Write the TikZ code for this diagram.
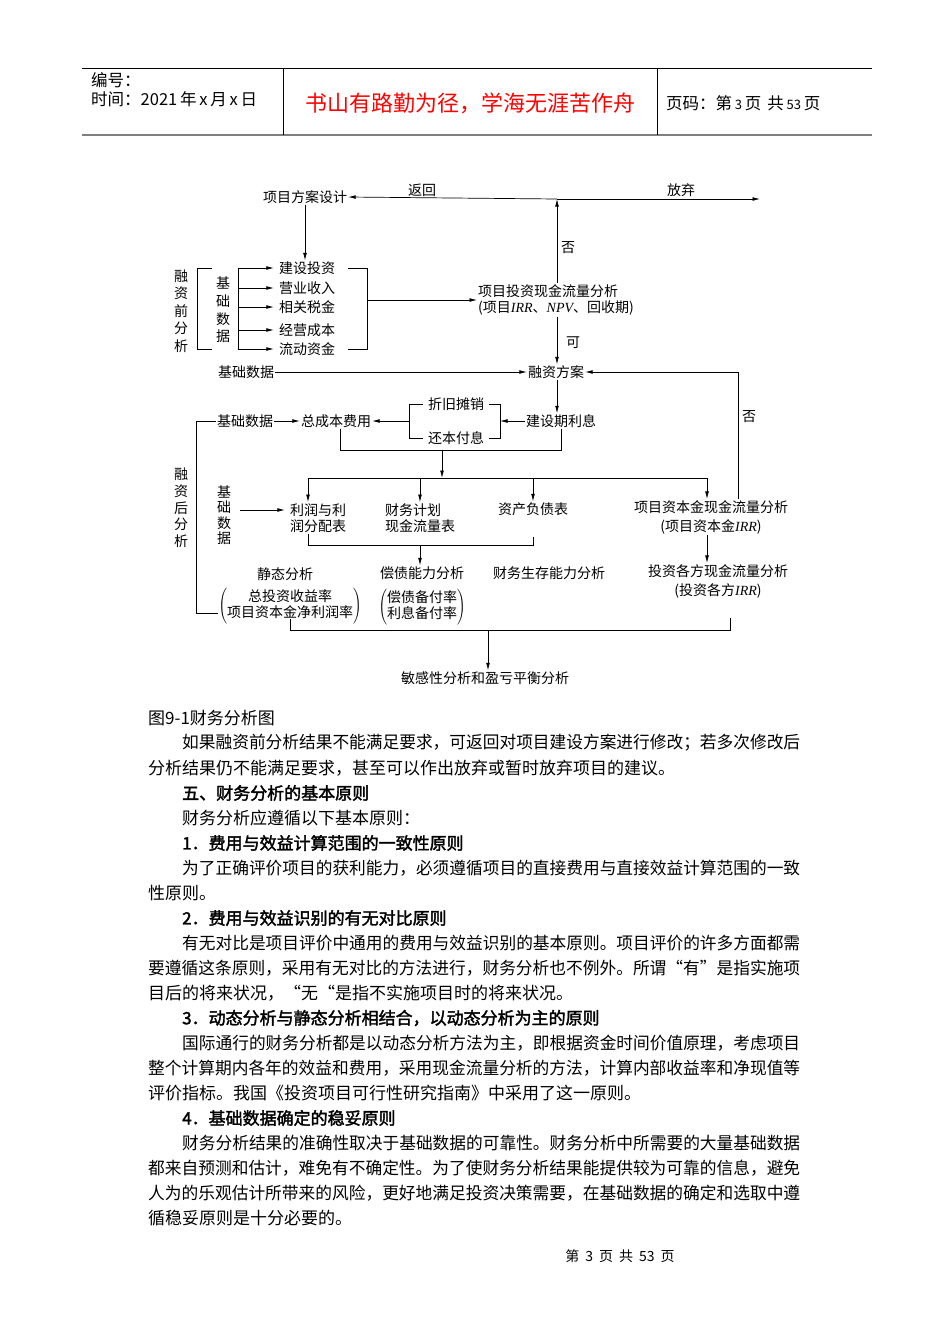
\documentclass[tikz,border=0pt]{standalone}
\usepackage{fontspec}
\setmainfont{Noto Sans CJK SC}[AutoFakeBold=2]
\newfontfamily\timesf{Liberation Serif}
\usepackage{xcolor}
\usepackage{graphicx}
\usetikzlibrary{arrows.meta,positioning,calc}
\definecolor{HdrRed}{HTML}{FF0000}
\definecolor{RuleGray}{HTML}{7F7F7F}
\newcommand\latit[1]{{\timesf\itshape #1}}
\newcommand\fline[1]{\resizebox{652pt}{\height}{#1}}
\newcommand\iline[1]{\resizebox{618pt}{\height}{#1}}

\begin{document}
\begin{tikzpicture}[x=1pt,y=-1pt,
        txt/.style={font=\fontsize{14}{16.5}\selectfont,inner sep=1pt},
        vtxt/.style={txt,align=center},
        arr/.style={-{Latex[length=7.5pt,width=3.8pt]},line width=0.7pt},
        ln/.style={line width=0.7pt},
        body/.style={font=\fontsize{17}{20}\selectfont,inner sep=0pt,anchor=west},
        bodyb/.style={body,font=\fontsize{17}{20}\selectfont\bfseries},
        hdr/.style={font=\fontsize{16.5}{18}\selectfont,inner sep=0pt,anchor=west}]
\useasboundingbox[fill=white] (0,0) rectangle (950,1344);

% page header
\draw[line width=0.8pt] (82,68) -- (872,68);
\draw[line width=2pt,RuleGray] (82,135) -- (872,135);
\draw[line width=0.8pt] (283,68) -- (283,135);
\draw[line width=0.8pt] (657,68) -- (657,135);
\node[hdr] (serial) at (91,80) {编号：};
\node[hdr] (date) at (91,99) {时间：2021\,年\,x\,月\,x\,日};
\node[font=\fontsize{22}{24}\selectfont,HdrRed,inner sep=0pt] (motto) at (470,103) {书山有路勤为径，学海无涯苦作舟};
\node[hdr] (pageno) at (666,103) {页码：第\,{\fontsize{13}{14}\selectfont 3}\,页\hspace{6pt}共\,{\fontsize{13}{14}\selectfont 53}\,页};

% before financing
\node[txt] (design) at (305,197) {项目方案设计};
\coordinate (fork) at (557,199);
\coordinate (quit) at (760,199);
\node[txt] (back) at (422,190) {返回};
\node[txt] (giveup) at (681,190) {放弃};
\draw[arr] (fork) -- (design.east);
\draw[arr] (fork) -- (quit);

\node[vtxt,font=\fontsize{14}{17.5}\selectfont] (pre) at (181,311) {融\\资\\前\\分\\析};
\node[vtxt,font=\fontsize{14}{17.7}\selectfont] (bd1) at (223,310) {基\\础\\数\\据};
\node[txt] (inv) at (307,268) {建设投资};
\node[txt] (rev) at (307,288) {营业收入};
\node[txt] (tax) at (307,307) {相关税金};
\node[txt] (opc) at (307,330) {经营成本};
\node[txt] (wc) at (307,349) {流动资金};
\draw[arr] (design.south) -- (design.south |- inv.north);
\draw[ln] (212,268) -- (197,268) -- (197,349) -- (212,349);
\coordinate (spine) at (238,268);
\draw[ln] (spine) -- (spine |- wc.west);
\foreach \it in {inv,rev,tax,opc,wc}
  \draw[arr] (spine |- \it.west) -- ([xshift=-4pt]\it.west);

\node[txt,align=left,anchor=west] (cfa) at (477,300)
  {项目投资现金流量分析\\(项目\latit{IRR}、\latit{NPV}、回收期)};
\coordinate (rb) at (367,300);
\draw[ln] ([xshift=12pt]inv.east) -- (inv.east -| rb) -- (wc.east -| rb) -- ([xshift=12pt]wc.east);
\draw[arr] (rb) -- (cfa.west);
\draw[arr] (cfa.north -| fork) -- (fork);
\node[txt] (no1) at (568,248) {否};

% financing plan
\node[txt] (fin) at (556,372) {融资方案};
\node[txt] (bd2) at (246,372) {基础数据};
\draw[arr] (cfa.south -| fork) -- (fork |- fin.north);
\node[txt] (yes) at (573,343) {可};
\draw[arr] (bd2.east) -- (fin.west);

% after financing
\node[txt] (cip) at (561,421) {建设期利息};
\node[txt] (dep) at (456,404) {折旧摊销};
\node[txt] (rep) at (456,438) {还本付息};
\node[txt] (tcost) at (336,421) {总成本费用};
\node[txt] (bd3) at (245,421) {基础数据};
\draw[arr] (fork |- fin.south) -- (fork |- cip.north);
\coordinate (rb2) at (500,421);
\coordinate (lb2) at (409,421);
\draw[ln] ([xshift=4pt]dep.east) -- (dep.east -| rb2) -- (rep.east -| rb2) -- ([xshift=4pt]rep.east);
\draw[ln] ([xshift=-4pt]dep.west) -- (dep.west -| lb2) -- (rep.west -| lb2) -- ([xshift=-4pt]rep.west);
\draw[arr] (cip.west) -- (rb2);
\draw[arr] (lb2) -- (tcost.east);
\draw[arr] (bd3.east) -- (tcost.west);

\coordinate (merge) at (442,450);
\coordinate (d1) at (308,478);
\coordinate (d2) at (420,478);
\coordinate (d3) at (533,478);
\coordinate (d4) at (707,478);
\draw[ln] ([xshift=4pt]tcost.south) |- (cip.south |- merge) -- (cip.south);
\draw[arr] (merge) -- (merge |- d1);
\draw[ln] (d1) -- (d4);

\node[vtxt,font=\fontsize{14}{16.7}\selectfont] (post) at (181,508) {融\\资\\后\\分\\析};
\node[vtxt,font=\fontsize{14}{15.4}\selectfont] (bd4) at (224,515) {基\\础\\数\\据};
\node[txt,align=left] (pl) at (318,518) {利润与利\\润分配表};
\node[txt,align=left] (cfp) at (420,518) {财务计划\\现金流量表};
\node[txt] (bs) at (533,509) {资产负债表};
\node[txt,align=center,font=\fontsize{14}{19}\selectfont] (eqcf) at (711,517)
  {项目资本金现金流量分析\\(项目资本金\latit{IRR})};
\draw[arr] (d1) -- (d1 |- pl.north);
\draw[arr] (d2) -- (d2 |- cfp.north);
\draw[arr] (d3) -- (d3 |- bs.north);
\draw[arr] (d4) -- (d4 |- eqcf.north);
\draw[arr] ([shift={(8pt,5pt)}]bd4.east) -- ([shift={(-4pt,5pt)}]bd4.east -| pl.west);

\coordinate (nl) at (738,372);
\draw[arr] ([xshift=27pt]eqcf.north) -- (nl) -- (fin.east);
\node[txt] (no2) at (749,417) {否};

\coordinate (m1) at (420,545);
\draw[ln] (d1 |- pl.south) -- (d1 |- m1) -- (d3 |- m1) -- ([yshift=8pt]d3 |- m1);

\node[txt] (stat) at (285,574) {静态分析};
\node[txt] (debt) at (422,573) {偿债能力分析};
\node[txt] (sur) at (549,573) {财务生存能力分析};
\node[txt,align=center,font=\fontsize{14}{19}\selectfont] (ipcf) at (718,581)
  {投资各方现金流量分析\\(投资各方\latit{IRR})};
\node[txt,inner sep=0pt] (statlist) at (290,606)
  {$\left(\begin{tabular}{@{}c@{}}总投资收益率\\项目资本金净利润率\end{tabular}\right)$};
\node[txt,inner sep=0pt] (debtlist) at (422,607)
  {$\left(\begin{tabular}{@{}c@{}}偿债备付率\\利息备付率\end{tabular}\right)$};
\draw[arr] (m1) -- (m1 |- debt.north);
\draw[arr] (d4 |- eqcf.south) -- (d4 |- ipcf.north);
\draw[ln] (bd3.west) -- ++(-19,0) |- ([yshift=-7pt]statlist.west);

\coordinate (b1) at (488,630);
\coordinate (b2) at (730,630);
\node[txt] (sens) at (485,678) {敏感性分析和盈亏平衡分析};
\draw[ln] ([yshift=5pt]statlist.south) |- (b2) -- ([yshift=12pt]b2);
\draw[arr] (b1) -- (b1 |- sens.north);

% running text
\node[body] (cap) at (148,718) {图9-1财务分析图};
\node[body] (l01) at (182,743) {\iline{如果融资前分析结果不能满足要求，可返回对项目建设方案进行修改；若多次修改后}};
\node[body] (l02) at (148,768) {分析结果仍不能满足要求，甚至可以作出放弃或暂时放弃项目的建议。};
\node[bodyb] (l03) at (182,793) {五、财务分析的基本原则};
\node[body] (l04) at (182,818) {财务分析应遵循以下基本原则：};
\node[bodyb] (l05) at (182,843) {1．费用与效益计算范围的一致性原则};
\node[body] (l06) at (182,868) {\iline{为了正确评价项目的获利能力，必须遵循项目的直接费用与直接效益计算范围的一致}};
\node[body] (l07) at (148,893) {性原则。};
\node[bodyb] (l08) at (182,918) {2．费用与效益识别的有无对比原则};
\node[body] (l09) at (182,943) {\iline{有无对比是项目评价中通用的费用与效益识别的基本原则。项目评价的许多方面都需}};
\node[body] (l10) at (148,968) {\fline{要遵循这条原则，采用有无对比的方法进行，财务分析也不例外。所谓“有”是指实施项}};
\node[body] (l11) at (148,993) {目后的将来状况，“无“是指不实施项目时的将来状况。};
\node[bodyb] (l12) at (182,1018) {3．动态分析与静态分析相结合，以动态分析为主的原则};
\node[body] (l13) at (182,1043) {\iline{国际通行的财务分析都是以动态分析方法为主，即根据资金时间价值原理，考虑项目}};
\node[body] (l14) at (148,1068) {\fline{整个计算期内各年的效益和费用，采用现金流量分析的方法，计算内部收益率和净现值等}};
\node[body] (l15) at (148,1093) {评价指标。我国《投资项目可行性研究指南》中采用了这一原则。};
\node[bodyb] (l16) at (182,1118) {4．基础数据确定的稳妥原则};
\node[body] (l17) at (182,1143) {\iline{财务分析结果的准确性取决于基础数据的可靠性。财务分析中所需要的大量基础数据}};
\node[body] (l18) at (148,1168) {\fline{都来自预测和估计，难免有不确定性。为了使财务分析结果能提供较为可靠的信息，避免}};
\node[body] (l19) at (148,1193) {\fline{人为的乐观估计所带来的风险，更好地满足投资决策需要，在基础数据的确定和选取中遵}};
\node[body] (l20) at (148,1218) {循稳妥原则是十分必要的。};

% footer
\node[font=\fontsize{14}{16}\selectfont,inner sep=0pt] (foot) at (620,1256)
  {第\hspace{6pt}3\hspace{6pt}页\hspace{6pt}共\hspace{6pt}53\hspace{6pt}页};
\end{tikzpicture}
\end{document}
